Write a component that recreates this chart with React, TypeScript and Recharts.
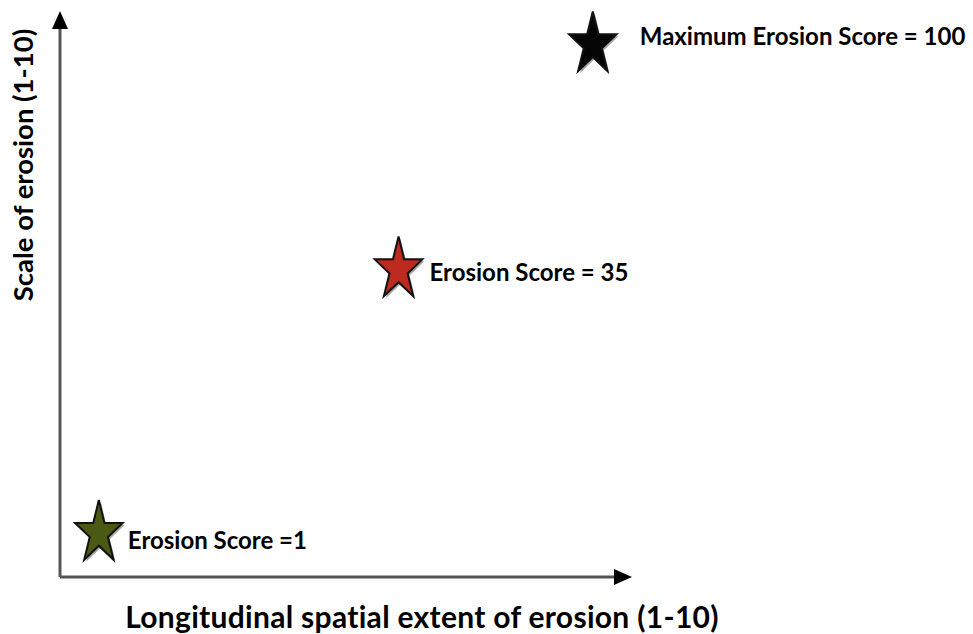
import { ScatterChart, Scatter, XAxis, YAxis, Label } from 'recharts';

// longitudinal spatial extent (x) and scale of erosion (y)
const extentValues = [0.7, 6.1, 9.6];
const scaleValues = [0.8, 5.6, 9.7];
const scoreLabels = ['Erosion Score =1', 'Erosion Score = 35', 'Maximum Erosion Score = 100'];

const starFills = ['#4b5a12', '#bd2a20', '#050505'];
const labelNudge = [
  { dx: 29, dy: 16 },
  { dx: 31, dy: 11 },
  { dx: 47, dy: 1 },
];

const points = extentValues.map((x, i) => ({ x, y: scaleValues[i], label: scoreLabels[i] }));

const FONT = 'Lato, "Open Sans", sans-serif';

function starPath(cx: number, cy: number, rx: number, ry: number) {
  const inner = 0.382;
  const pts: string[] = [];
  for (let k = 0; k < 10; k++) {
    const a = -Math.PI / 2 + (k * Math.PI) / 5;
    const r = k % 2 === 0 ? 1 : inner;
    pts.push(`${(cx + Math.cos(a) * rx * r).toFixed(2)},${(cy + Math.sin(a) * ry * r).toFixed(2)}`);
  }
  return `M${pts.join('L')}Z`;
}

const StarMark = (props: any) => {
  const { cx, cy, payload, index } = props;
  if (cx == null || cy == null) return null;
  const i = index ?? scoreLabels.indexOf(payload.label);
  const nudge = labelNudge[i];
  return (
    <g>
      <path d={starPath(cx + 2, cy + 2, 25, 33)} fill="#000" opacity={0.35} />
      <path d={starPath(cx, cy, 25, 33)} fill={starFills[i]} stroke="#111" strokeWidth={2} strokeLinejoin="miter" />
      <text
        x={cx + nudge.dx}
        y={cy + nudge.dy}
        fontFamily={FONT}
        fontWeight={700}
        fontSize={24}
        fill="#000"
      >
        {payload.label}
      </text>
    </g>
  );
};

const XTitle = (props: any) => {
  const { viewBox } = props;
  return (
    <text
      x={viewBox.x + 362}
      y={viewBox.y + 51}
      textAnchor="middle"
      fontFamily={FONT}
      fontWeight={700}
      fontSize={30}
      letterSpacing={0.3}
      fill="#000"
    >
      Longitudinal spatial extent of erosion (1-10)
    </text>
  );
};

const YTitle = (props: any) => {
  const { viewBox } = props;
  return (
    <text
      transform={`translate(${viewBox.x + 33},${viewBox.y + 137}) rotate(-90)`}
      textAnchor="middle"
      fontFamily={FONT}
      fontWeight={700}
      fontSize={27.5}
      fill="#000"
    >
      Scale of erosion (1-10)
    </text>
  );
};

export default function App() {
  return (
    <div style={{ position: 'absolute', left: 0, top: 0, width: 973, height: 634, background: '#fff' }}>
      <svg width={0} height={0} style={{ position: 'absolute' }}>
        <defs>
          <marker
            id="axisArrow"
            markerUnits="userSpaceOnUse"
            markerWidth={18}
            markerHeight={16}
            refX={1}
            refY={8}
            orient="auto-start-reverse"
          >
            <path d="M0,0 L18,8 L0,16 Z" fill="#000" />
          </marker>
        </defs>
      </svg>
      <ScatterChart width={973} height={634} margin={{ top: 28, right: 358, bottom: 0, left: 0 }}>
        <XAxis
          type="number"
          dataKey="x"
          domain={[0, 10]}
          height={57}
          tick={false}
          tickLine={false}
          axisLine={{ stroke: '#555', strokeWidth: 3, markerEnd: 'url(#axisArrow)' }}
        >
          <Label content={<XTitle />} />
        </XAxis>
        <YAxis
          type="number"
          dataKey="y"
          domain={[0, 10]}
          width={60}
          tick={false}
          tickLine={false}
          axisLine={{ stroke: '#555', strokeWidth: 3, markerStart: 'url(#axisArrow)' }}
        >
          <Label content={<YTitle />} />
        </YAxis>
        <Scatter data={points} shape={<StarMark />} isAnimationActive={false} />
      </ScatterChart>
    </div>
  );
}
